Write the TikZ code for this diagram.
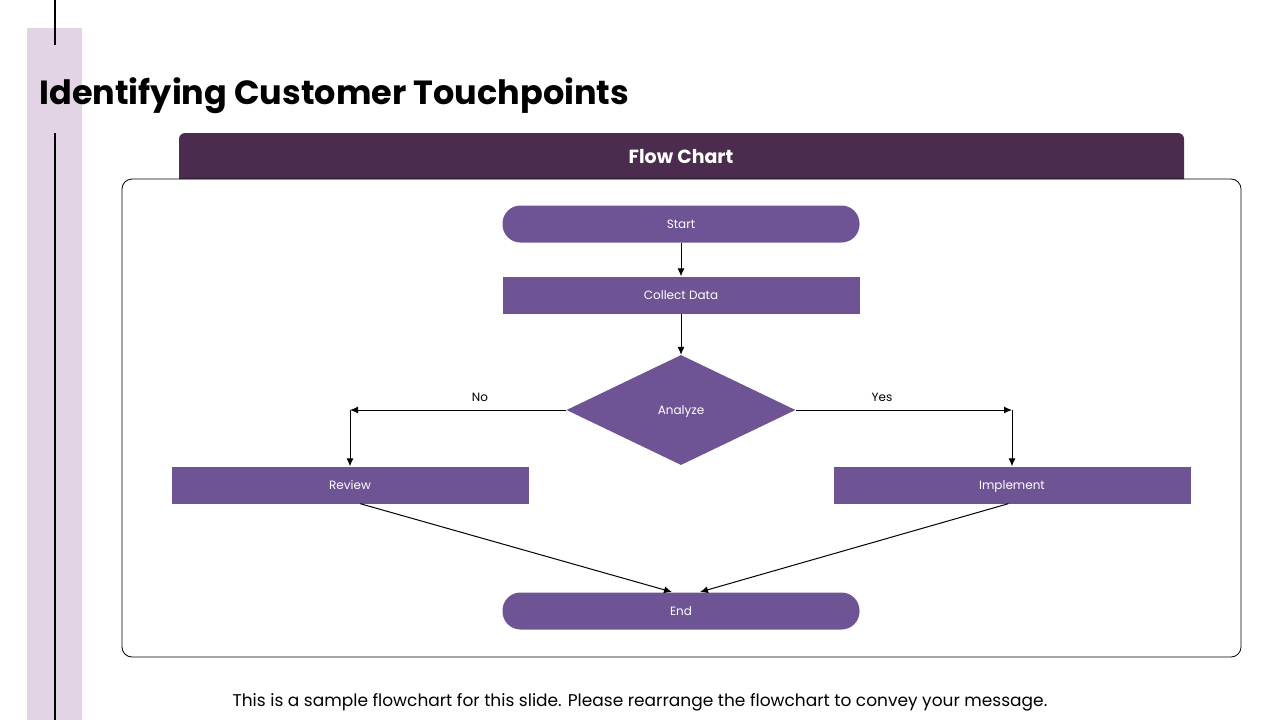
\documentclass[tikz,border=0pt]{standalone}
\usepackage{fontspec}
\setmainfont{Poppins}
\usetikzlibrary{arrows.meta,positioning,shapes.geometric}
\definecolor{barlilac}{HTML}{E2D4E5}
\definecolor{headplum}{HTML}{4B2C4E}
\definecolor{boxviolet}{HTML}{6E5494}
\tikzset{
  flowbox/.style={fill=boxviolet, text=white, minimum width=357pt, minimum height=37pt,
    inner sep=0pt, text height=11pt, text depth=3pt, font=\fontsize{12}{14}\selectfont},
  pillbox/.style={flowbox, rounded corners=18pt},
  choicebox/.style={diamond, fill=boxviolet, text=white, minimum width=229pt, minimum height=110pt,
    inner sep=0pt, aspect=2.08, text height=11pt, text depth=3pt, font=\fontsize{12}{14}\selectfont},
  flowarrow/.style={-{Latex[length=8pt,width=7pt]}, black, line width=1pt},
  branchlabel/.style={font=\fontsize{12}{14}\selectfont}
}
\begin{document}
\begin{tikzpicture}[x=1pt, y=-1pt]
  \useasboundingbox (0,0) rectangle (1280,720);
  % side bar and rules
  \fill[barlilac] (27,28) rectangle (82,720);
  \draw[black, line width=2pt] (55,0) -- (55,45);
  \draw[black, line width=2pt] (55,133) -- (55,720);
  \node[anchor=base west, font=\fontsize{33.5}{38}\selectfont\bfseries] (title) at (36,104) {Identifying Customer Touchpoints};
  % chart frame
  \fill[headplum] (179,179) -- (179,139) arc (180:270:6) -- (1178,133) arc (270:360:6) -- (1184,179) -- cycle;
  \node[text=white, font=\fontsize{19}{22}\selectfont\bfseries] (header) at (681,157) {Flow Chart};
  \draw[black, line width=0.8pt, rounded corners=10pt] (122,179) rectangle (1241,657);
  % flow nodes
  \node[pillbox] (start) at (681,224) {Start};
  \node[flowbox] (collect) at (681,295) {Collect Data};
  \node[choicebox] (analyze) at (681,410) {Analyze};
  \node[flowbox] (review) at (350,485) {Review};
  \node[flowbox] (implement) at (1012,485) {Implement};
  \node[pillbox] (end) at (681,611) {End};
  \coordinate (nocorner) at (analyze.west -| review);
  \coordinate (yescorner) at (analyze.east -| implement);
  % connectors
  \draw[flowarrow] (start) -- (collect);
  \draw[flowarrow] (collect) -- (analyze);
  \draw[flowarrow] (analyze.west) -- (nocorner);
  \draw[flowarrow] (nocorner) -- (review);
  \draw[flowarrow] (analyze.east) -- (yescorner);
  \draw[flowarrow] (yescorner) -- (implement);
  \draw[flowarrow] (review.south west) ++(189,0) coordinate (revfoot) -- (672,592);
  \draw[flowarrow] (implement.south west) ++(175,0) coordinate (impfoot) -- (700,592);
  \node[branchlabel] (nolabel) at (480,397) {No};
  \node[branchlabel] (yeslabel) at (882,397) {Yes};
  % footer
  \node[font=\fontsize{17}{20}\selectfont] (note) at (640,702) {This is a sample flowchart for this slide. Please rearrange the flowchart to convey your message.};
\end{tikzpicture}
\end{document}
